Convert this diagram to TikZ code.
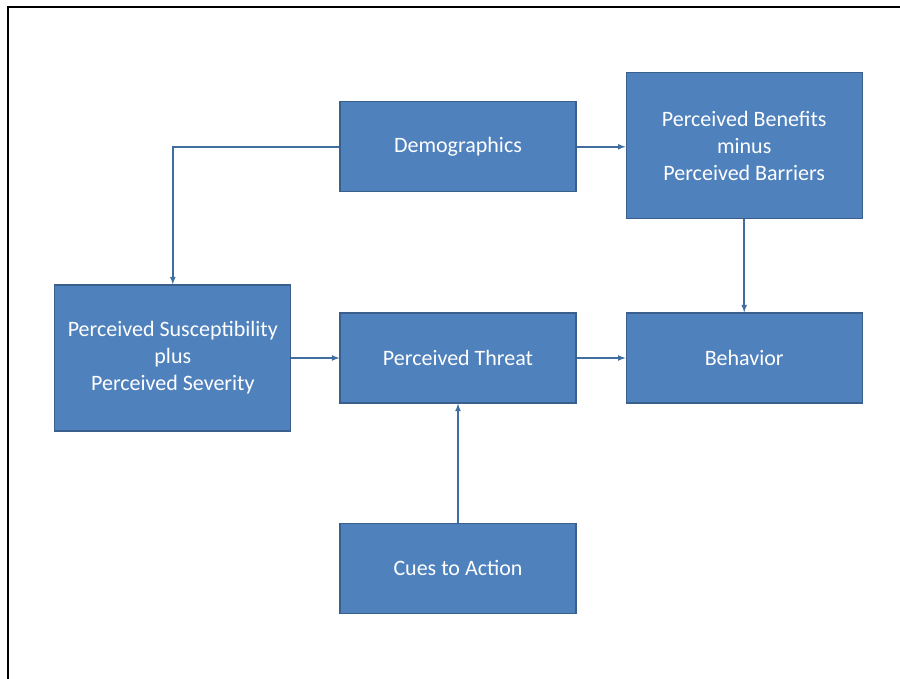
\documentclass[tikz,border=0pt]{standalone}
\usepackage{fontspec}
\setmainfont{Carlito}
\usepackage{tikz}
\usetikzlibrary{arrows, positioning}
\definecolor{hbmfill}{RGB}{79,129,189}
\definecolor{hbmedge}{RGB}{58,95,140}
\definecolor{hbmline}{RGB}{65,110,160}
\tikzset{
  hbmbox/.style={draw=hbmedge, line width=1.2pt, fill=hbmfill, text=white,
    minimum width=236pt, minimum height=90pt, inner sep=0pt, align=center,
    font=\fontsize{22}{27}\selectfont},
  hbmtall/.style={hbmbox, minimum height=146pt},
  hbmlink/.style={draw=hbmline, line width=1.6pt, -latex},
}

\begin{document}
\begin{tikzpicture}[x=1pt, y=-1pt]
  \useasboundingbox (0,0) rectangle (900,679);
  \draw[line width=1.6pt] (8,679) -- (8,7) -- (900,7);

  \node[hbmbox] (threat) at (458,358) {Perceived Threat};
  \node[hbmbox, above=120pt of threat] (demog) {Demographics};
  \node[hbmbox, below=119pt of threat] (cues) {Cues to Action};
  \node[hbmbox, right=49pt of threat] (behav) {Behavior};
  \node[hbmtall, above=93pt of behav] (benef) {Perceived Benefits\\minus\\Perceived Barriers};
  \node[hbmtall, left=48pt of threat] (suscep) {Perceived Susceptibility\\plus\\Perceived Severity};

  \draw[hbmlink] (demog.west) -| (suscep.north);
  \draw[hbmlink] (demog.east) -- (demog.east -| benef.west);
  \draw[hbmlink] (benef.south) -- (behav.north);
  \draw[hbmlink] (suscep.east) -- (threat.west);
  \draw[hbmlink] (threat.east) -- (behav.west);
  \draw[hbmlink] (cues.north) -- (threat.south);
\end{tikzpicture}
\end{document}
